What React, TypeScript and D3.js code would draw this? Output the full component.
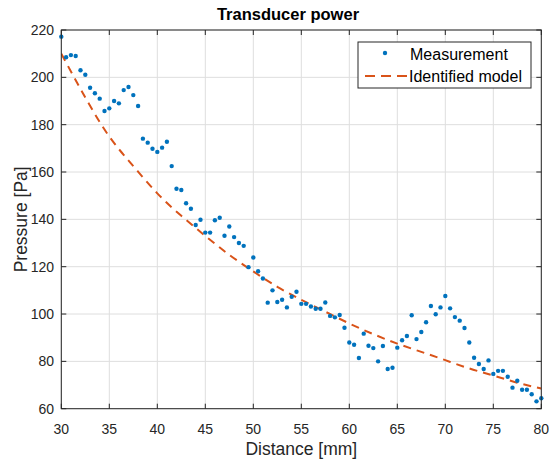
import React from "react";
import * as d3 from "d3";

const distanceMm: number[] = d3.range(0, 101).map((i) => 30 + i * 0.5);
const measuredPa: number[] = [
  217.2, 208.5, 209.4, 209.0, 203.0, 201.1, 195.6, 193.3, 191.0, 185.8,
  186.9, 190.0, 189.0, 194.6, 195.9, 192.5, 187.9, 174.1, 172.4, 169.8,
  168.5, 170.3, 172.8, 162.5, 152.9, 152.4, 146.8, 144.5, 137.6, 139.8,
  134.4, 134.4, 139.6, 140.7, 133.1, 137.0, 132.5, 130.0, 128.8, 119.8,
  123.9, 118.1, 115.0, 104.8, 110.0, 105.1, 106.0, 102.8, 107.3, 109.4,
  104.3, 104.3, 103.2, 102.2, 102.2, 104.9, 99.2, 98.6, 99.6, 94.2,
  88.0, 87.0, 81.4, 91.7, 86.6, 85.6, 80.0, 86.5, 76.8, 77.3,
  85.8, 88.9, 90.7, 99.5, 89.4, 92.4, 96.5, 103.4, 99.9, 102.8,
  107.6, 102.4, 98.7, 97.2, 94.1, 88.0, 81.5, 78.9, 76.8, 80.4,
  74.7, 76.0, 76.0, 73.5, 68.9, 71.8, 68.0, 68.0, 66.1, 63.1,
  64.4,
];

const modelX: number[] = [30, 32.5, 35, 37.5, 40, 42.5, 45, 47.5, 50, 52.5, 55, 57.5, 60, 62.5, 65, 67.5, 70, 72.5, 75, 77.5, 80];
const modelY: number[] = [210, 191.5, 175, 162.5, 151, 141.5, 133, 125, 118, 111.5, 106, 101, 96, 91.5, 87.5, 84, 80.5, 77, 74, 71, 68.5];

const xTicks: number[] = [30, 35, 40, 45, 50, 55, 60, 65, 70, 75, 80];
const yTicks: number[] = [60, 80, 100, 120, 140, 160, 180, 200, 220];

const W = 549;
const H = 459;
const L = 61.3, R = 541.3, T = 30, B = 408.7;
const axisColor = "#262626";
const gridColor = "#dedede";
const blue = "#0072BD";
const orange = "#D95319";
const font = "'Liberation Sans', Arial, Helvetica, sans-serif";

export default function App() {
  const x = d3.scaleLinear().domain([30, 80]).range([L, R]);
  const y = d3.scaleLinear().domain([60, 220]).range([B, T]);
  const line = d3
    .line<number>()
    .x((_, i) => x(modelX[i]))
    .y((d) => y(d))
    .curve(d3.curveNatural);
  const tickLen = 5;

  return (
    <svg
      width={W}
      height={H}
      style={{ position: "absolute", left: 0, top: 0, background: "#fff" }}
      fontFamily={font}
    >
      <rect x={0} y={0} width={W} height={H} fill="#fff" />
      <rect x={L} y={T} width={R - L} height={B - T} fill="#fff" />
      {/* grid */}
      {xTicks.map((t) => (
        <line key={"gx" + t} x1={x(t)} x2={x(t)} y1={T} y2={B} stroke={gridColor} strokeWidth={1} />
      ))}
      {yTicks.map((t) => (
        <line key={"gy" + t} x1={L} x2={R} y1={y(t)} y2={y(t)} stroke={gridColor} strokeWidth={1} />
      ))}
      <defs>
        <clipPath id="plotclip">
          <rect x={L} y={T} width={R - L} height={B - T} />
        </clipPath>
      </defs>
      {/* model */}
      <path
        d={line(modelY) || ""}
        fill="none"
        stroke={orange}
        strokeWidth={2}
        strokeDasharray="8,6"
        clipPath="url(#plotclip)"
      />
      {/* measurement */}
      {measuredPa.map((v, i) => (
        <circle key={"p" + i} cx={x(distanceMm[i])} cy={y(v)} r={2.2} fill={blue} />
      ))}
      {/* axes box */}
      <rect x={L} y={T} width={R - L} height={B - T} fill="none" stroke={axisColor} strokeWidth={1} />
      {xTicks.map((t) => (
        <g key={"tx" + t}>
          <line x1={x(t)} x2={x(t)} y1={B} y2={B - tickLen} stroke={axisColor} />
          <line x1={x(t)} x2={x(t)} y1={T} y2={T + tickLen} stroke={axisColor} />
          <text x={x(t)} y={434} textAnchor="middle" fontSize={14} fill={axisColor}>
            {t}
          </text>
        </g>
      ))}
      {yTicks.map((t) => (
        <g key={"ty" + t}>
          <line x1={L} x2={L + tickLen} y1={y(t)} y2={y(t)} stroke={axisColor} />
          <line x1={R} x2={R - tickLen} y1={y(t)} y2={y(t)} stroke={axisColor} />
          <text x={54} y={y(t) + 5} textAnchor="end" fontSize={14} fill={axisColor}>
            {t}
          </text>
        </g>
      ))}
      {/* labels */}
      <text x={(L + R) / 2} y={455} textAnchor="middle" fontSize={17.5} fill={axisColor}>
        Distance [mm]
      </text>
      <text
        transform={`translate(27,${(T + B) / 2}) rotate(-90)`}
        textAnchor="middle"
        fontSize={17.5}
        fill={axisColor}
      >
        Pressure [Pa]
      </text>
      <text x={288} y={20} textAnchor="middle" fontSize={16.5} fontWeight="bold" fill="#000">
        Transducer power
      </text>
      {/* legend */}
      <rect x={358} y={42} width={173} height={46} fill="#fff" stroke={axisColor} strokeWidth={1} />
      <circle cx={385} cy={53} r={2.2} fill={blue} />
      <line x1={365} x2={407} y1={76} y2={76} stroke={orange} strokeWidth={2} strokeDasharray="10,6" />
      <text x={410} y={60} fontSize={16} fill="#000">
        Measurement
      </text>
      <text x={409} y={82} fontSize={16} fill="#000">
        Identified model
      </text>
    </svg>
  );
}
